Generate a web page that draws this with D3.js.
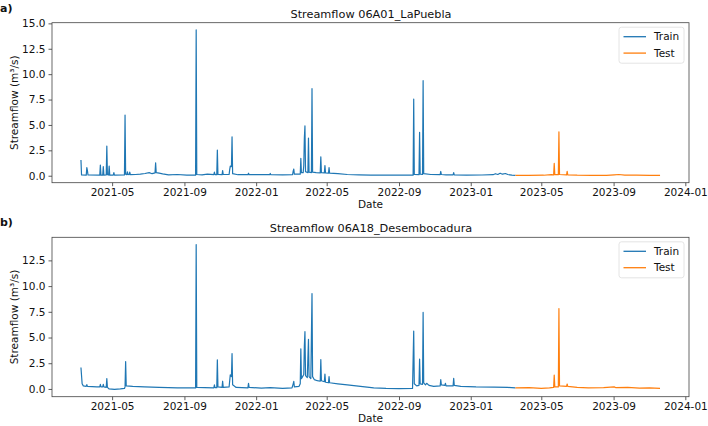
<!DOCTYPE html>
<html>
<head>
<meta charset="utf-8">
<script src="https://cdn.jsdelivr.net/npm/d3@7"></script>
<style>
  body { margin: 0; background: #fff; }
  svg, svg text { font-family: "DejaVu Sans", sans-serif; }
</style>
</head>
<body>
<svg width="708" height="426"></svg>
<script>
// series: [date, streamflow m3/s]
const trainA = [
  ["2021-03-09",1.55],["2021-03-10",0.08],["2021-03-18",0.06],["2021-03-19",0.8],["2021-03-20",0.5],["2021-03-21",0.07],
  ["2021-04-10",0.05],["2021-04-11",1.05],["2021-04-12",0.06],["2021-04-15",0.05],["2021-04-16",0.9],["2021-04-17",0.06],
  ["2021-04-21",0.08],["2021-04-22",2.92],["2021-04-23",0.1],["2021-04-25",0.07],["2021-04-26",0.95],["2021-04-27",0.06],
  ["2021-05-03",0.05],["2021-05-04",0.3],["2021-05-05",0.06],["2021-05-22",0.07],["2021-05-23",5.98],["2021-05-24",0.15],
  ["2021-05-26",0.1],["2021-05-27",0.38],["2021-05-28",0.12],["2021-05-30",0.1],["2021-05-31",0.35],["2021-06-01",0.1],
  ["2021-06-10",0.12],["2021-06-18",0.15],["2021-06-26",0.22],["2021-07-03",0.3],["2021-07-08",0.2],["2021-07-13",0.28],
  ["2021-07-14",1.28],["2021-07-15",0.3],["2021-07-20",0.25],["2021-07-26",0.18],["2021-08-05",0.08],["2021-08-20",0.12],
  ["2021-09-05",0.06],["2021-09-20",0.06],["2021-09-21",14.35],["2021-09-22",0.12],["2021-10-01",0.08],["2021-10-10",0.15],
  ["2021-10-21",0.1],["2021-10-22",0.35],["2021-10-23",0.1],["2021-10-26",0.1],["2021-10-27",2.53],["2021-10-28",0.12],
  ["2021-11-04",0.1],["2021-11-05",0.5],["2021-11-06",0.12],["2021-11-16",0.12],["2021-11-17",0.6],["2021-11-18",0.95],
  ["2021-11-20",0.9],["2021-11-21",3.84],["2021-11-22",0.2],["2021-12-01",0.1],["2021-12-18",0.1],["2021-12-19",0.25],
  ["2021-12-20",0.1],["2022-01-10",0.12],["2022-01-24",0.1],["2022-01-25",0.22],["2022-01-26",0.1],["2022-02-15",0.08],
  ["2022-03-04",0.1],["2022-03-05",0.45],["2022-03-06",0.66],["2022-03-07",0.15],["2022-03-17",0.15],["2022-03-18",1.7],
  ["2022-03-19",0.3],["2022-03-22",0.3],["2022-03-23",1.0],["2022-03-24",3.71],["2022-03-25",4.9],["2022-03-26",0.4],
  ["2022-03-30",0.3],["2022-03-31",3.71],["2022-04-01",0.35],["2022-04-05",0.3],["2022-04-06",8.57],["2022-04-07",0.35],
  ["2022-04-13",0.3],["2022-04-20",0.28],["2022-04-21",1.87],["2022-04-22",0.3],["2022-04-27",0.28],["2022-04-28",1.0],
  ["2022-04-29",0.27],["2022-05-04",0.25],["2022-05-05",0.8],["2022-05-06",0.25],["2022-05-20",0.2],["2022-06-05",0.12],
  ["2022-06-25",0.08],["2022-07-15",0.06],["2022-08-05",0.05],["2022-08-25",0.06],["2022-09-15",0.05],["2022-09-25",0.05],
  ["2022-09-26",7.55],["2022-09-27",0.12],["2022-10-05",0.1],["2022-10-06",4.27],["2022-10-07",0.15],["2022-10-11",0.12],
  ["2022-10-12",9.36],["2022-10-13",0.2],["2022-10-25",0.12],["2022-11-10",0.1],["2022-11-11",0.42],["2022-11-12",0.12],
  ["2022-11-20",0.08],["2022-12-02",0.08],["2022-12-03",0.3],["2022-12-04",0.08],["2022-12-25",0.06],["2023-01-20",0.07],
  ["2023-02-08",0.1],["2023-02-12",0.2],["2023-02-16",0.12],["2023-02-20",0.25],["2023-02-24",0.15],["2023-03-01",0.22],
  ["2023-03-05",0.12],["2023-03-12",0.06],["2023-03-18",0.04]
];
const testA = [
  ["2023-03-18",0.04],["2023-04-10",0.03],["2023-05-05",0.05],["2023-05-18",0.1],["2023-05-22",0.08],["2023-05-23",1.21],
  ["2023-05-24",0.1],["2023-05-30",0.1],["2023-05-31",4.33],["2023-06-01",0.12],["2023-06-13",0.08],["2023-06-14",0.42],
  ["2023-06-15",0.08],["2023-07-01",0.05],["2023-07-25",0.04],["2023-08-20",0.03],["2023-09-02",0.08],["2023-09-10",0.12],
  ["2023-09-20",0.06],["2023-10-10",0.05],["2023-11-01",0.04],["2023-11-19",0.03]
];
const trainB = [
  ["2021-03-09",2.09],["2021-03-11",0.5],["2021-03-13",0.3],["2021-03-18",0.25],["2021-03-19",0.42],["2021-03-20",0.25],
  ["2021-04-05",0.2],["2021-04-10",0.2],["2021-04-11",0.45],["2021-04-12",0.2],["2021-04-15",0.2],["2021-04-16",0.45],
  ["2021-04-17",0.2],["2021-04-21",0.15],["2021-04-22",1.0],["2021-04-23",0.15],["2021-04-26",0.0],["2021-05-05",-0.05],
  ["2021-05-15",0.0],["2021-05-22",0.05],["2021-05-23",0.2],["2021-05-24",2.67],["2021-05-25",0.3],["2021-06-05",0.25],
  ["2021-06-25",0.2],["2021-07-20",0.15],["2021-08-20",0.1],["2021-09-10",0.1],["2021-09-20",0.1],["2021-09-21",14.04],
  ["2021-09-22",0.15],["2021-10-05",0.12],["2021-10-21",0.1],["2021-10-22",0.4],["2021-10-23",0.12],["2021-10-26",0.12],
  ["2021-10-27",2.83],["2021-10-28",0.2],["2021-11-04",0.15],["2021-11-05",0.75],["2021-11-06",0.15],["2021-11-16",0.2],
  ["2021-11-17",0.8],["2021-11-18",1.38],["2021-11-20",1.2],["2021-11-21",3.44],["2021-11-22",0.4],["2021-11-28",0.15],
  ["2021-12-18",0.1],["2021-12-19",0.55],["2021-12-20",0.15],["2022-01-10",0.08],["2022-01-25",0.12],["2022-02-15",0.05],
  ["2022-03-03",0.1],["2022-03-05",0.5],["2022-03-06",0.73],["2022-03-07",0.2],["2022-03-15",0.25],["2022-03-17",0.5],
  ["2022-03-18",3.9],["2022-03-19",1.0],["2022-03-21",1.2],["2022-03-23",1.4],["2022-03-24",4.2],["2022-03-25",5.57],
  ["2022-03-26",1.3],["2022-03-29",1.1],["2022-03-31",4.83],["2022-04-01",1.2],["2022-04-04",1.0],["2022-04-06",9.27],
  ["2022-04-07",1.2],["2022-04-10",0.9],["2022-04-15",0.8],["2022-04-20",0.75],["2022-04-21",2.86],["2022-04-22",0.8],
  ["2022-04-27",0.7],["2022-04-28",1.45],["2022-04-29",0.65],["2022-05-04",0.6],["2022-05-05",1.2],["2022-05-06",0.6],
  ["2022-05-20",0.5],["2022-06-05",0.4],["2022-06-20",0.3],["2022-07-05",0.2],["2022-07-20",0.1],["2022-08-10",0.05],
  ["2022-09-01",0.03],["2022-09-24",0.05],["2022-09-26",5.63],["2022-09-27",0.5],["2022-10-01",0.3],["2022-10-05",0.35],
  ["2022-10-06",2.9],["2022-10-07",0.5],["2022-10-11",0.45],["2022-10-12",7.44],["2022-10-13",0.6],["2022-10-16",0.4],
  ["2022-10-18",0.55],["2022-10-22",0.35],["2022-10-30",0.25],["2022-11-10",0.3],["2022-11-11",0.9],["2022-11-12",0.4],
  ["2022-11-18",0.35],["2022-11-19",0.55],["2022-11-20",0.3],["2022-12-02",0.3],["2022-12-03",1.03],["2022-12-04",0.35],
  ["2022-12-15",0.25],["2023-01-10",0.2],["2023-02-10",0.18],["2023-03-05",0.15],["2023-03-18",0.1]
];
const testB = [
  ["2023-03-18",0.1],["2023-04-10",0.12],["2023-05-01",0.05],["2023-05-15",0.1],["2023-05-22",0.15],["2023-05-23",1.35],
  ["2023-05-24",0.2],["2023-05-30",0.2],["2023-05-31",7.82],["2023-06-01",0.3],["2023-06-13",0.25],["2023-06-14",0.48],
  ["2023-06-15",0.25],["2023-07-01",0.15],["2023-07-20",0.1],["2023-08-15",0.12],["2023-09-02",0.2],["2023-09-05",0.12],
  ["2023-09-25",0.15],["2023-10-15",0.08],["2023-11-01",0.1],["2023-11-19",0.05]
];
const yTicksA = [0, 2.5, 5, 7.5, 10, 12.5, 15];
const yTicksB = [0, 2.5, 5, 7.5, 10, 12.5];
const seriesNames = ["Train", "Test"];
const colors = ["#1f77b4", "#ff7f0e"];

const svg = d3.select("svg");
const parse = d3.timeParse("%Y-%m-%d");
const left = 52, right = 689;
const font = "DejaVu Sans, sans-serif";

// pad a [min,max] extent by 5% on both sides like matplotlib
function pad(ext) {
  const p = (ext[1] - ext[0]) * 0.05;
  return [ext[0] - p, ext[1] + p];
}

function drawPanel(opts) {
  const g = svg.append("g");
  const all = opts.train.concat(opts.test);
  const x = d3.scaleTime()
    .domain(pad(d3.extent(all, d => parse(d[0])).map(Number)).map(v => new Date(v)))
    .range([left, right]);
  const y = d3.scaleLinear()
    .domain(pad(d3.extent(all, d => d[1])))
    .range([opts.bottom, opts.top]);

  const line = d3.line().x(d => x(parse(d[0]))).y(d => y(d[1]));
  [opts.train, opts.test].forEach((s, i) => {
    g.append("path").datum(s)
      .attr("d", line)
      .attr("fill", "none")
      .attr("stroke", colors[i])
      .attr("stroke-width", 1.2)
      .attr("stroke-linejoin", "round");
  });

  // axes
  const xAxis = g.append("g").attr("transform", `translate(0,${opts.bottom})`)
    .call(d3.axisBottom(x).ticks(d3.timeMonth.every(4)).tickFormat(d3.timeFormat("%Y-%m")).tickSizeOuter(0).tickSize(3.5).tickPadding(2.5));
  const yAxis = g.append("g").attr("transform", `translate(${left},0)`)
    .call(d3.axisLeft(y).tickValues(opts.yTicks).tickFormat(d3.format(".1f")).tickSizeOuter(0).tickSize(3.5).tickPadding(3));
  [xAxis, yAxis].forEach(a => {
    a.attr("font-family", font).attr("font-size", 10.5);
    a.select(".domain").remove();
    a.selectAll("line").attr("stroke", "#333").attr("stroke-width", 0.8);
    a.selectAll("text").attr("fill", "#111");
  });
  xAxis.selectAll(".tick").filter(d => d < x.domain()[0]).remove();

  // frame
  g.append("rect")
    .attr("x", left).attr("y", opts.top)
    .attr("width", right - left).attr("height", opts.bottom - opts.top)
    .attr("fill", "none").attr("stroke", "#444").attr("stroke-width", 0.8);

  // labels
  g.append("text").attr("x", (left + right) / 2 + 0.5).attr("y", opts.top - 5)
    .attr("text-anchor", "middle").style("font-size", "11.3px").attr("fill", "#111")
    .text(opts.title);
  g.append("text").attr("x", 0).attr("y", opts.top - 11)
    .style("font-size", "11px").style("font-weight", "bold").attr("fill", "#111")
    .text(opts.tag);
  g.append("text").attr("x", (left + right) / 2).attr("y", opts.bottom + 25.5)
    .attr("text-anchor", "middle").style("font-size", "10.5px").attr("fill", "#111")
    .text("Date");
  g.append("text")
    .attr("transform", `translate(17.5,${(opts.top + opts.bottom) / 2}) rotate(-90)`)
    .attr("text-anchor", "middle").style("font-size", "10.5px").attr("fill", "#111")
    .text("Streamflow (m³/s)");

  // legend
  const lg = g.append("g").attr("transform", `translate(619,${opts.top + 4.5})`);
  lg.append("rect").attr("width", 65).attr("height", 36).attr("rx", 2.5)
    .attr("fill", "#fff").attr("fill-opacity", 0.8).attr("stroke", "#ddd").attr("stroke-width", 0.8);
  seriesNames.forEach((n, i) => {
    const cy = 9.5 + i * 16.4;
    lg.append("line").attr("x1", 4.5).attr("x2", 27).attr("y1", cy).attr("y2", cy)
      .attr("stroke", colors[i]).attr("stroke-width", 1.3);
    lg.append("text").attr("x", 35).attr("y", cy).attr("dy", "0.35em")
      .style("font-size", "10.5px").attr("fill", "#111").text(n);
  });
}

drawPanel({ train: trainA, test: testA, yTicks: yTicksA, top: 22.7, bottom: 182.7,
  title: "Streamflow 06A01_LaPuebla", tag: "a)" });
drawPanel({ train: trainB, test: testB, yTicks: yTicksB, top: 237.3, bottom: 396.7,
  title: "Streamflow 06A18_Desembocadura", tag: "b)" });
</script>
</body>
</html>
